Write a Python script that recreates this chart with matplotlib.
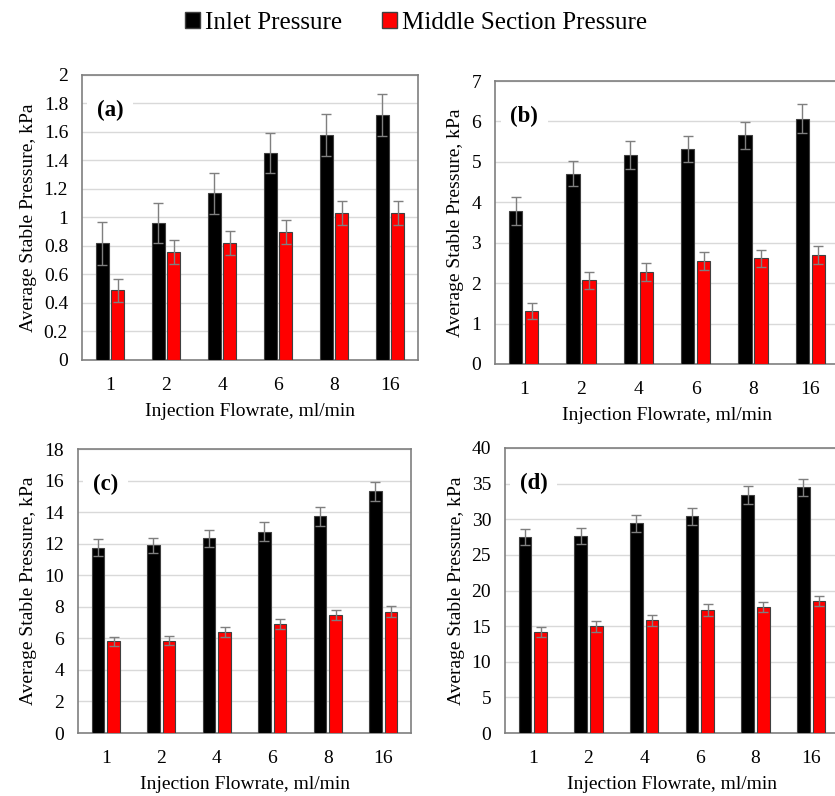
import numpy as np
import matplotlib
matplotlib.use("Agg")
import matplotlib.pyplot as plt
from matplotlib.patches import Patch

plt.rcParams['font.family'] = ['Liberation Serif', 'DejaVu Serif']

flowrates = ["1", "2", "4", "6", "8", "16"]

# (a)
inlet_a = [0.82, 0.96, 1.17, 1.45, 1.58, 1.72]
inlet_a_err = [0.15, 0.14, 0.145, 0.14, 0.145, 0.145]
mid_a = [0.49, 0.76, 0.82, 0.90, 1.03, 1.03]
mid_a_err = [0.08, 0.085, 0.085, 0.085, 0.085, 0.085]

# (b)
inlet_b = [3.79, 4.71, 5.17, 5.32, 5.66, 6.07]
inlet_b_err = [0.34, 0.31, 0.35, 0.32, 0.33, 0.35]
mid_b = [1.32, 2.07, 2.27, 2.55, 2.62, 2.69]
mid_b_err = [0.20, 0.21, 0.22, 0.22, 0.21, 0.22]

# (c)
inlet_c = [11.74, 11.89, 12.33, 12.75, 13.75, 15.33]
inlet_c_err = [0.53, 0.49, 0.55, 0.6, 0.6, 0.6]
mid_c = [5.8, 5.86, 6.39, 6.9, 7.49, 7.7]
mid_c_err = [0.3, 0.3, 0.32, 0.32, 0.33, 0.35]

# (d)
inlet_d = [27.5, 27.65, 29.43, 30.4, 33.4, 34.5]
inlet_d_err = [1.17, 1.17, 1.17, 1.17, 1.2, 1.2]
mid_d = [14.13, 14.97, 15.8, 17.26, 17.73, 18.5]
mid_d_err = [0.7, 0.75, 0.8, 0.8, 0.7, 0.7]

W, H = 835, 796
fig = plt.figure(figsize=(W/100, H/100), dpi=100)

def box(l, r, t, b):
    return [l/W, 1 - b/H, (r-l)/W, (b-t)/H]

panels = [
    ("(a)", box(82, 418, 75, 360), inlet_a, inlet_a_err, mid_a, mid_a_err, 2, 0.2),
    ("(b)", box(495, 839, 81, 364), inlet_b, inlet_b_err, mid_b, mid_b_err, 7, 1),
    ("(c)", box(78, 411, 449, 733), inlet_c, inlet_c_err, mid_c, mid_c_err, 18, 2),
    ("(d)", box(505, 839, 448, 733), inlet_d, inlet_d_err, mid_d, mid_d_err, 40, 5),
]

x = np.arange(len(flowrates))
w = 0.23
off = 0.14
grey = "#7f7f7f"

for tag, pos, inl, inl_e, mid, mid_e, ymax, step in panels:
    ax = fig.add_axes(pos)
    ax.bar(x - off, inl, w, color="black", edgecolor="#404040", linewidth=0.8, zorder=3)
    ax.bar(x + off, mid, w, color="#ff0000", edgecolor="#404040", linewidth=0.8, zorder=3)
    ax.errorbar(x - off, inl, yerr=inl_e, fmt="none", ecolor=grey, elinewidth=1, capsize=3.5, capthick=1, zorder=4)
    ax.errorbar(x + off, mid, yerr=mid_e, fmt="none", ecolor=grey, elinewidth=1, capsize=3.5, capthick=1, zorder=4)
    ax.set_xlim(-0.5, 5.5)
    ax.set_ylim(0, ymax)
    yt = np.arange(0, ymax + step/2, step)
    ax.set_yticks(yt)
    ax.set_yticklabels([("%g" % round(v, 2)) for v in yt])
    ax.set_xticks(x)
    ax.set_xticklabels(flowrates)
    ax.tick_params(length=0, labelsize=14)
    ax.tick_params(axis="y", pad=10)
    ax.tick_params(axis="x", pad=12)
    ax.grid(axis="y", color="#d9d9d9", linewidth=1, zorder=0)
    ax.set_axisbelow(True)
    for s in ax.spines.values():
        s.set_color(grey)
        s.set_linewidth(1.2)
    ax.set_ylabel("Average Stable Pressure, kPa", fontsize=14, labelpad=5)
    ax.set_xlabel("Injection Flowrate, ml/min", fontsize=14, labelpad=7)
    ax.text(0.045, 0.875, tag, transform=ax.transAxes, fontsize=16.5, fontweight="bold",
            va="center", ha="left", zorder=5,
            bbox=dict(facecolor="white", edgecolor="none", pad=7))

handles = [Patch(facecolor="black", edgecolor="#404040", label="Inlet Pressure"),
           Patch(facecolor="#ff0000", edgecolor="#404040", label="Middle Section Pressure")]
fig.legend(handles=handles, loc="center", bbox_to_anchor=(416/W, 1 - 23/H), ncol=2,
           frameon=False, fontsize=18, handlelength=0.6, handleheight=0.6,
           handletextpad=0.2, columnspacing=1.6)

fig.savefig("out.png", dpi=100)
